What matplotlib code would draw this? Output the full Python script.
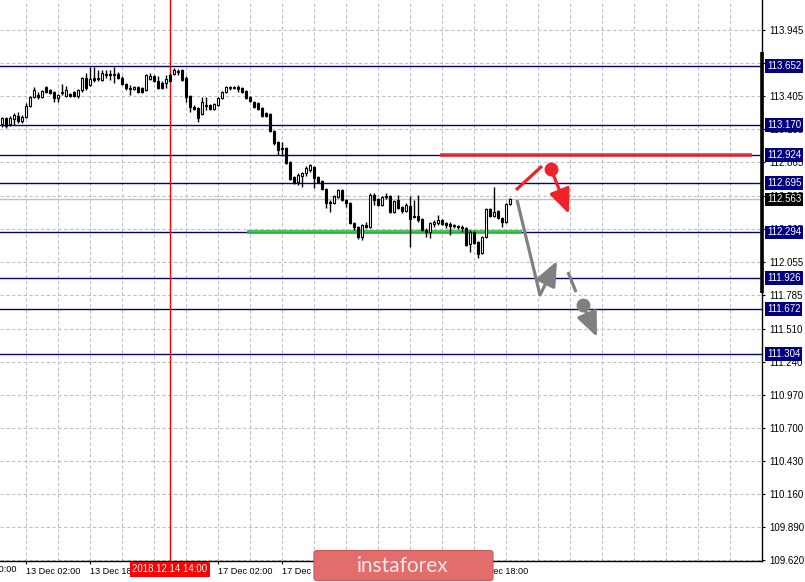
import matplotlib
matplotlib.use("Agg")
import matplotlib.pyplot as plt
import matplotlib.transforms as mtransforms
from matplotlib.patches import FancyBboxPatch

plt.rcParams['font.family'] = ['Liberation Sans', 'DejaVu Sans']

# --- H1 candles, 12 Dec 20:00 .. 20 Dec 03:00 ---
opens = [113.179, 113.228, 113.179, 113.220, 113.244, 113.204, 113.236, 113.326, 113.399, 113.416,
         113.399, 113.481, 113.457, 113.440, 113.391, 113.432, 113.408, 113.424, 113.440, 113.408,
         113.457, 113.555, 113.497, 113.555, 113.555, 113.538, 113.587, 113.587, 113.579, 113.587,
         113.555, 113.506, 113.473, 113.465, 113.481, 113.473, 113.457, 113.546, 113.571, 113.530,
         113.514, 113.514, 113.579, 113.587, 113.612, 113.620, 113.555, 113.408, 113.318, 113.310,
         113.261, 113.326, 113.334, 113.302, 113.334, 113.391, 113.440, 113.481, 113.473, 113.481,
         113.473, 113.448, 113.399, 113.359, 113.351, 113.310, 113.269, 113.261, 113.122, 113.032,
         112.983, 112.983, 112.869, 112.747, 112.706, 112.755, 112.779, 112.804, 112.828, 112.747,
         112.714, 112.649, 112.543, 112.535, 112.583, 112.641, 112.559, 112.535, 112.371, 112.339,
         112.257, 112.355, 112.339, 112.600, 112.567, 112.518, 112.592, 112.592, 112.461, 112.559,
         112.502, 112.469, 112.510, 112.428, 112.428, 112.404, 112.314, 112.298, 112.363, 112.371,
         112.396, 112.371, 112.363, 112.355, 112.347, 112.339, 112.331, 112.200, 112.298, 112.216,
         112.127, 112.257, 112.486, 112.428, 112.469, 112.412, 112.379, 112.526]
highs = [113.236, 113.236, 113.244, 113.269, 113.277, 113.253, 113.351, 113.408, 113.481, 113.440,
         113.457, 113.489, 113.465, 113.448, 113.424, 113.506, 113.489, 113.432, 113.448, 113.465,
         113.563, 113.595, 113.644, 113.644, 113.620, 113.620, 113.620, 113.620, 113.644, 113.603,
         113.571, 113.514, 113.497, 113.489, 113.489, 113.481, 113.587, 113.595, 113.579, 113.571,
         113.530, 113.579, 113.595, 113.636, 113.628, 113.628, 113.571, 113.416, 113.334, 113.318,
         113.399, 113.399, 113.342, 113.351, 113.399, 113.448, 113.489, 113.489, 113.489, 113.497,
         113.481, 113.457, 113.408, 113.367, 113.359, 113.318, 113.277, 113.269, 113.130, 113.040,
         113.032, 112.991, 112.877, 112.755, 112.779, 112.787, 112.836, 112.853, 112.836, 112.755,
         112.722, 112.657, 112.559, 112.600, 112.649, 112.649, 112.567, 112.543, 112.379, 112.347,
         112.363, 112.379, 112.616, 112.616, 112.575, 112.592, 112.616, 112.600, 112.559, 112.600,
         112.510, 112.535, 112.592, 112.559, 112.600, 112.412, 112.331, 112.379, 112.396, 112.437,
         112.404, 112.379, 112.379, 112.363, 112.355, 112.355, 112.339, 112.314, 112.306, 112.224,
         112.265, 112.494, 112.494, 112.665, 112.477, 112.420, 112.535, 112.575]
lows = [113.155, 113.147, 113.163, 113.171, 113.187, 113.187, 113.228, 113.318, 113.391, 113.383,
        113.391, 113.432, 113.424, 113.359, 113.359, 113.416, 113.399, 113.399, 113.399, 113.391,
        113.440, 113.457, 113.489, 113.522, 113.530, 113.530, 113.555, 113.538, 113.514, 113.546,
        113.497, 113.457, 113.416, 113.457, 113.432, 113.432, 113.448, 113.538, 113.522, 113.465,
        113.465, 113.473, 113.522, 113.579, 113.579, 113.530, 113.359, 113.277, 113.293, 113.195,
        113.253, 113.293, 113.293, 113.293, 113.326, 113.383, 113.432, 113.457, 113.465, 113.440,
        113.432, 113.383, 113.359, 113.310, 113.293, 113.236, 113.236, 113.114, 113.008, 112.926,
        112.918, 112.853, 112.722, 112.690, 112.681, 112.665, 112.755, 112.787, 112.657, 112.698,
        112.641, 112.494, 112.461, 112.526, 112.575, 112.551, 112.502, 112.363, 112.314, 112.241,
        112.233, 112.331, 112.331, 112.518, 112.510, 112.510, 112.567, 112.453, 112.453, 112.486,
        112.453, 112.461, 112.175, 112.412, 112.379, 112.306, 112.257, 112.249, 112.339, 112.355,
        112.355, 112.331, 112.273, 112.331, 112.322, 112.298, 112.184, 112.135, 112.200, 112.086,
        112.118, 112.249, 112.420, 112.420, 112.404, 112.339, 112.371, 112.518]
closes = [113.228, 113.163, 113.228, 113.253, 113.204, 113.236, 113.326, 113.399, 113.457, 113.399,
          113.448, 113.440, 113.432, 113.391, 113.416, 113.440, 113.457, 113.408, 113.408, 113.457,
          113.555, 113.473, 113.546, 113.538, 113.546, 113.595, 113.579, 113.579, 113.587, 113.555,
          113.506, 113.473, 113.465, 113.481, 113.440, 113.440, 113.579, 113.571, 113.530, 113.473,
          113.473, 113.546, 113.530, 113.620, 113.603, 113.538, 113.399, 113.318, 113.302, 113.228,
          113.359, 113.334, 113.302, 113.342, 113.391, 113.440, 113.481, 113.473, 113.481, 113.465,
          113.440, 113.391, 113.367, 113.318, 113.302, 113.244, 113.244, 113.122, 113.024, 112.967,
          112.975, 112.861, 112.730, 112.698, 112.763, 112.779, 112.820, 112.845, 112.739, 112.706,
          112.649, 112.535, 112.535, 112.592, 112.641, 112.559, 112.535, 112.371, 112.339, 112.257,
          112.355, 112.339, 112.600, 112.559, 112.518, 112.583, 112.583, 112.461, 112.551, 112.494,
          112.469, 112.518, 112.404, 112.420, 112.396, 112.314, 112.298, 112.371, 112.379, 112.396,
          112.363, 112.355, 112.347, 112.347, 112.339, 112.331, 112.192, 112.298, 112.208, 112.118,
          112.257, 112.486, 112.428, 112.461, 112.412, 112.379, 112.526, 112.563]

# price scale
tick_vals = [109.620, 109.890, 110.160, 110.430, 110.700, 110.970, 111.240, 111.510, 111.785,
             112.055, 112.325, 112.595, 112.865, 113.135, 113.405, 113.675, 113.945]
tick_labels = ['109.620', '109.890', '110.160', '110.430', '110.700', '110.970', '111.240', '111.510',
               '111.785', '112.055', '112.325', '112.595', '112.865', '113.135', '113.405', '113.675',
               '113.945']

# time scale (candle index)
time_idx = [-10, 6, 22, 38, 54, 70, 86, 102, 118]
time_labels = ['12 Dec 10:00', '13 Dec 02:00', '13 Dec 18:00', '14 Dec 10:00', '17 Dec 02:00',
               '17 Dec 18:00', '18 Dec 10:00', '19 Dec 02:00', '19 Dec 18:00']
cursor_idx = 42
cursor_label = '2018.12.14 14:00'

# horizontal levels
levels = [113.652, 113.170, 112.924, 112.695, 112.294, 111.926, 111.672, 111.304]
last_price = 112.563
support_idx = [61.25, 130]
support_price = 112.294
resist_idx = [109.5, 187.5]
resist_price = 112.924
range_bar = [111.800, 113.767]

# forecast sketch
red_line_idx = [128.5, 135.0]
red_line_price = [112.641, 112.836]
red_dot = (137.25, 112.812)
red_tip = (141.75, 112.445)
gray_line_idx = [128.75, 134.5]
gray_line_price = [112.559, 111.784]
gray_tip1 = (138.75, 112.061)
gray_dash_idx = [141.5, 143.5]
gray_dash_price = [111.971, 111.808]
gray_dot = (145.25, 111.702)
gray_tip2 = (148.75, 111.441)

NAVY = '#000080'
RED = '#ee2229'
GRAY = '#808080'
GRID = '#c0c0c0'

fig = plt.figure(figsize=(8.05, 5.82), dpi=100)
ax = fig.add_axes([0, 21 / 582, 762 / 805, 561 / 582])
ax.set_xlim(-0.5, 190)
ax.set_ylim(109.613, 114.191)

# grid
for gx in range(6, 190, 8):
    ax.axvline(gx, color=GRID, lw=0.8, ls=(0, (3, 2.2)), zorder=0.5)
for gy in tick_vals:
    ax.axhline(gy, color=GRID, lw=0.8, ls=(0, (3, 2.2)), zorder=0.5)

ax.axhline(last_price, color=GRID, lw=1.0, zorder=0.8)
for lv in levels:
    ax.axhline(lv, color=NAVY, lw=1.0, zorder=1)

ax.plot(support_idx, [support_price] * 2, color='#36c046', lw=3.0, alpha=0.9,
        solid_capstyle='butt', zorder=2)
ax.plot(resist_idx, [resist_price] * 2, color=RED, lw=2.6, alpha=0.9,
        solid_capstyle='butt', zorder=2)
ax.axvline(cursor_idx, color='red', lw=1.0, zorder=2.5)

# candles
idx = list(range(len(opens)))
ax.vlines(idx, lows, highs, color='black', lw=1.0, zorder=3)
bottoms = [min(o, c) for o, c in zip(opens, closes)]
heights = [max(abs(c - o), 0.006) for o, c in zip(opens, closes)]
faces = ['white' if c >= o else 'black' for o, c in zip(opens, closes)]
ax.bar(idx, heights, bottom=bottoms, width=0.72, color=faces, edgecolor='black',
       linewidth=0.8, zorder=4)

# forecast sketch
arrow_style = '-|>,head_length=0.75,head_width=0.32'
ax.plot(red_line_idx, red_line_price, color=RED, lw=2.3, solid_capstyle='butt', zorder=5)
ax.plot(*red_dot, 'o', color=RED, ms=9, zorder=6)
ax.annotate('', xy=red_tip, xytext=red_dot,
            arrowprops=dict(arrowstyle=arrow_style, color=RED,
                            lw=2.3, mutation_scale=20, shrinkA=0, shrinkB=0), zorder=5)
ax.plot(gray_line_idx, gray_line_price, color=GRAY, lw=2.3, solid_capstyle='butt', zorder=5)
ax.annotate('', xy=gray_tip1, xytext=(gray_line_idx[1], gray_line_price[1]),
            arrowprops=dict(arrowstyle=arrow_style, color=GRAY,
                            lw=2.3, mutation_scale=20, shrinkA=0, shrinkB=0), zorder=5)
ax.plot(gray_dash_idx, gray_dash_price, color=GRAY, lw=2.3, solid_capstyle='butt', zorder=5)
ax.plot(*gray_dot, 'o', color=GRAY, ms=9, zorder=6)
ax.annotate('', xy=gray_tip2, xytext=gray_dot,
            arrowprops=dict(arrowstyle=arrow_style, color=GRAY,
                            lw=2.3, mutation_scale=20, shrinkA=0, shrinkB=0), zorder=5)

# axes styling
for s in ['top', 'left']:
    ax.spines[s].set_visible(False)
ax.spines['right'].set_linewidth(1.0)
ax.spines['bottom'].set_linewidth(1.0)
ax.plot([190, 190], range_bar, color='black', lw=2.6, solid_capstyle='butt',
        clip_on=False, zorder=6)

ax.yaxis.tick_right()
ax.set_yticks(tick_vals)
ax.set_yticklabels(tick_labels)
ax.tick_params(axis='y', length=2.5, width=0.8, pad=2.5, labelsize=7, colors='black')

shown = [(i, t) for i, t in zip(time_idx, time_labels) if i >= 0]
ax.set_xticks([i for i, _ in shown])
ax.set_xticklabels([t for _, t in shown], ha='left')
ax.tick_params(axis='x', length=2.5, width=0.8, pad=1.5, labelsize=6.6)
xlab = mtransforms.blended_transform_factory(ax.transData, ax.transAxes)
for i, t in zip(time_idx, time_labels):
    if i < 0:
        ax.text(i, -0.0075, t, transform=xlab, ha='left', va='top', fontsize=6.6,
                clip_on=False)

ax.text(cursor_idx, -0.0062, cursor_label, transform=xlab, ha='center', va='top',
        fontsize=7, color='white', clip_on=False, zorder=20,
        bbox=dict(boxstyle='square,pad=0.22', fc='#ff0000', ec='none'))

# level labels on the price scale
ylab = mtransforms.blended_transform_factory(fig.transFigure, ax.transData)
for lv in levels:
    ax.text(767 / 805, lv, f'{lv:.3f}', transform=ylab, ha='left', va='center',
            fontsize=7, color='white', clip_on=False, zorder=20,
            bbox=dict(boxstyle='square,pad=0.2', fc=NAVY, ec='none'))
ax.text(767 / 805, last_price, f'{last_price:.3f}', transform=ylab, ha='left', va='center',
        fontsize=7, color='white', clip_on=False, zorder=21,
        bbox=dict(boxstyle='square,pad=0.2', fc='black', ec='none'))

# watermark
wm = FancyBboxPatch((314 / 805, 1.5 / 582), 179 / 805, 30 / 582,
                    boxstyle='round,pad=0,rounding_size=0.004', transform=fig.transFigure,
                    fc='#e36d6d', ec='#c95a5a', lw=0.8, zorder=30)
fig.add_artist(wm)
fig.text(403 / 805, 16.5 / 582, 'instaforex', ha='center', va='center', fontsize=15,
         color='#fbe8e8', family=['Lato', 'DejaVu Sans'], zorder=31)

fig.savefig('out.png', dpi=100)
